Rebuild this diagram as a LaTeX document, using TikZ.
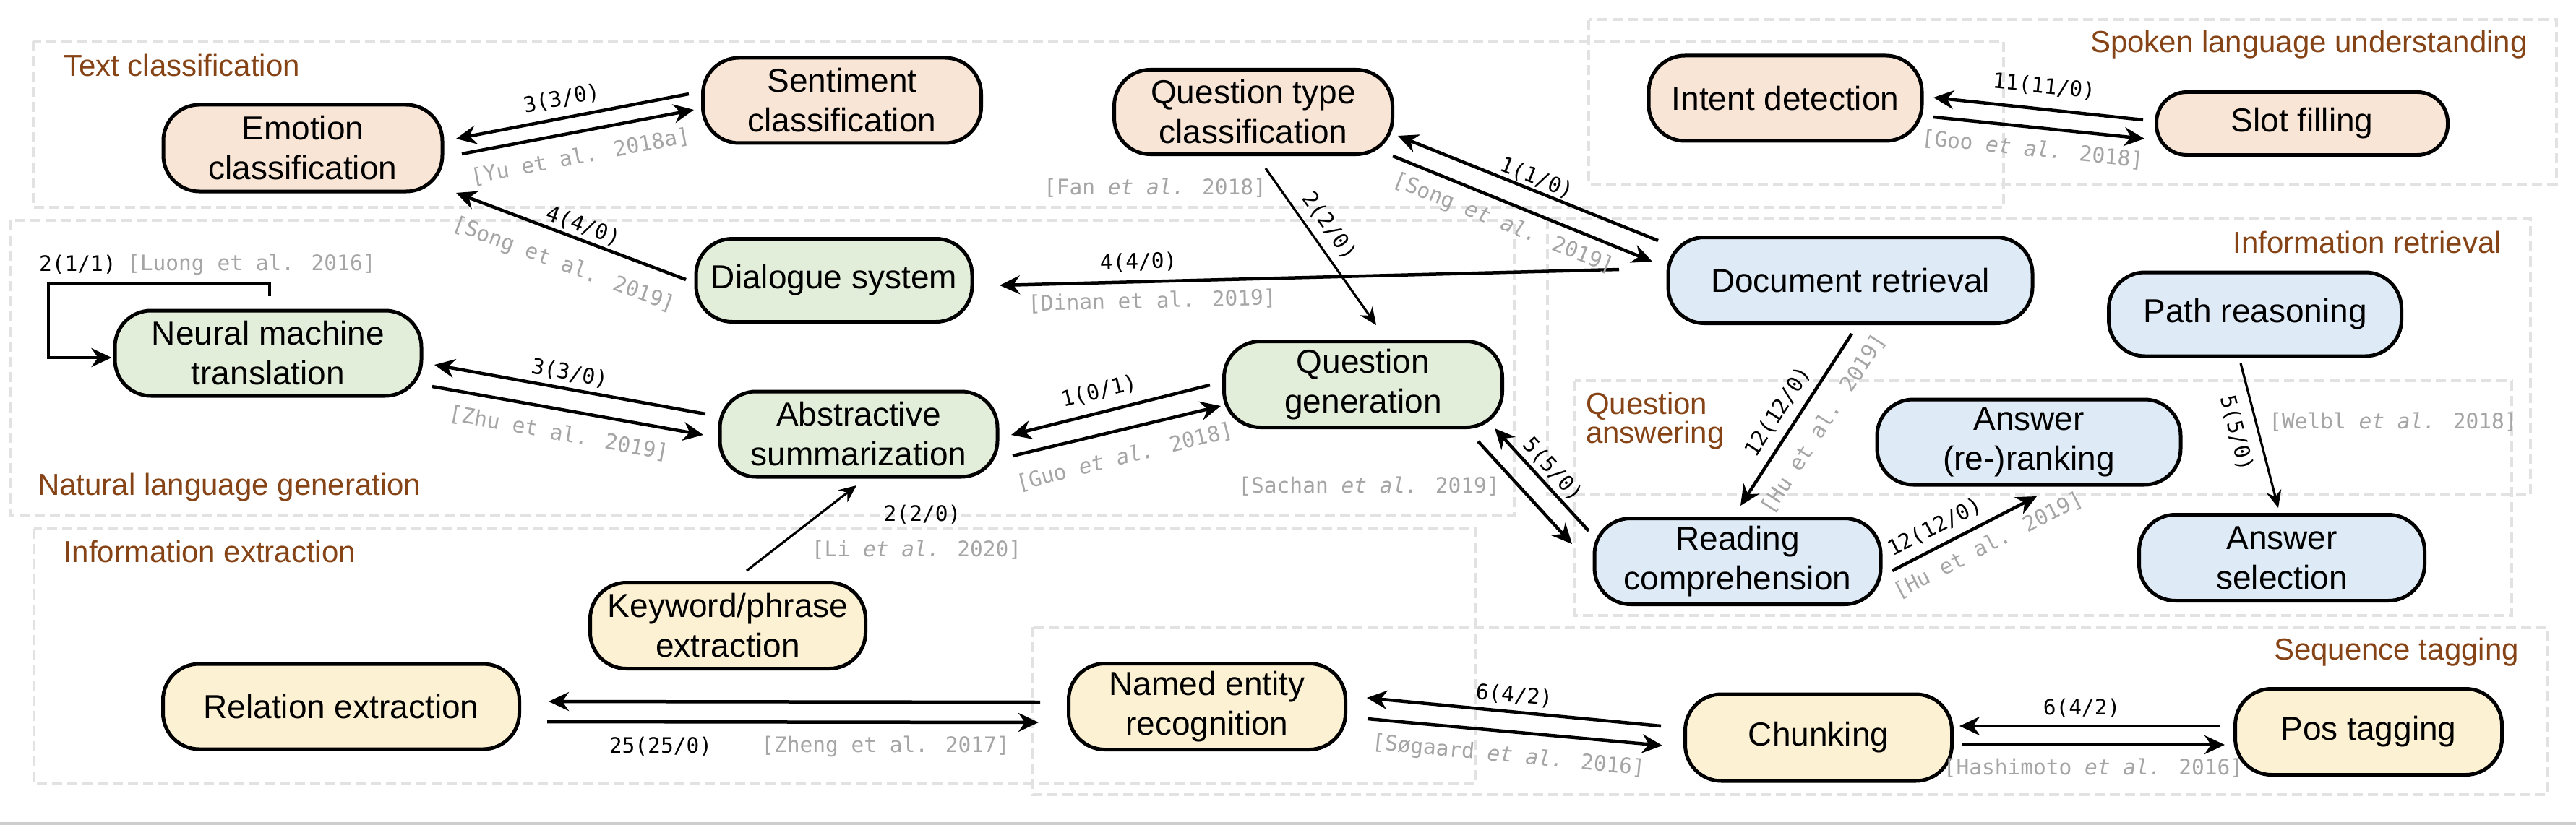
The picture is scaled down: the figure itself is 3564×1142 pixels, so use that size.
\documentclass[tikz,border=0pt]{standalone}
\usepackage{fontspec}
\setmainfont{Liberation Sans}
\newfontfamily\monof{DejaVu Sans Mono}
\usetikzlibrary{calc,arrows.meta}
\newcommand{\myetal}{\textit{et al.}}
\definecolor{peach}{RGB}{248,229,214}
\definecolor{grn}{RGB}{227,238,218}
\definecolor{blu}{RGB}{222,234,245}
\definecolor{yel}{RGB}{252,241,210}
\definecolor{brn}{RGB}{133,67,22}
\definecolor{citegray}{RGB}{165,165,165}
\definecolor{dashgray}{RGB}{226,226,226}
\tikzset{
  box/.style 2 args={draw=black, line width=5pt, rounded corners=50pt,
    minimum width=#1pt, minimum height=#2pt, inner sep=0pt, align=center,
    font=\fontsize{46}{55}\selectfont},
  grpbox/.style={draw=dashgray, line width=4pt, dash pattern=on 14pt off 7pt},
  sect/.style={text=brn, inner sep=0pt, font=\fontsize{42}{35}\selectfont},
  cnt/.style={inner sep=0pt, text=black, font=\monof\fontsize{29.5}{32}\selectfont},
  cite/.style={inner sep=0pt, text=citegray, font=\monof\fontsize{29.5}{32}\selectfont},
  arr/.style={draw=black, line width=4.5pt, -{Stealth[length=28pt,width=26pt,inset=9pt]}},
  tarr/.style={draw=black, line width=3.2pt, -{Stealth[length=24pt,width=21pt,inset=8pt]}},
}
\begin{document}
\begin{tikzpicture}[x=1pt,y=-1pt]
\useasboundingbox (0,0) rectangle (3564,1142);
\fill[white] (0,0) rectangle (3564,1142);
% group boxes
\draw[grpbox] (46,57) rectangle (2772,287);
\draw[grpbox] (2198,27) rectangle (3537,255);
\draw[grpbox] (15,305) rectangle (2095,713);
\draw[grpbox] (2141,303) rectangle (3501,685);
\draw[grpbox] (2179,527) rectangle (3475,852);
\draw[grpbox] (47,732) rectangle (2041,1085);
\draw[grpbox] (1429,868) rectangle (3525,1100);
\draw[draw={rgb,255:red,205;green,205;blue,205}, line width=4pt] (0,1140) -- (3564,1140);
% group labels
\node[sect, anchor=base west] (tclab) at (88,106) {Text classification};
\node[sect, anchor=base east] (slulab) at (3497,73) {Spoken language understanding};
\node[sect, anchor=base east] (irlab) at (3461,350) {Information retrieval};
\node[sect, anchor=base west] (nlglab) at (52,685) {Natural language generation};
\node[sect, anchor=base west] (ielab) at (88,778) {Information extraction};
\node[sect, anchor=north west, align=left] (qalab) at (2194,543) {Question\\answering};
\node[sect, anchor=base east] (stlab) at (3485,913) {Sequence tagging};
% nodes
\node[box={386}{120}, fill=peach] (emo) at (419,205) {Emotion\\classification};
\node[box={385}{118}, fill=peach] (sent) at (1165,139) {Sentiment\\classification};
\node[box={385}{117}, fill=peach] (qt) at (1734,155) {Question type\\classification};
\node[box={378}{118}, fill=peach] (intent) at (2470,136) {Intent detection};
\node[box={403}{87}, fill=peach, rounded corners=42pt] (slot) at (3185,171) {Slot filling};
\node[box={382}{115}, fill=grn] (dial) at (1154,388) {Dialogue system};
\node[box={504}{119}, fill=blu] (dr) at (2560,388) {Document retrieval};
\node[box={405}{116}, fill=blu] (path) at (3120,435) {Path reasoning};
\node[box={424}{118}, fill=grn] (nmt) at (371,489) {Neural machine\\translation};
\node[box={384}{118}, fill=grn] (abs) at (1188,601) {Abstractive\\summarization};
\node[box={385}{119}, fill=grn] (qg) at (1886,532) {Question\\generation};
\node[box={420}{118}, fill=blu] (ar) at (2807,612) {Answer\\(re-)ranking};
\node[box={396}{119}, fill=blu] (rc) at (2404,777) {Reading\\comprehension};
\node[box={395}{119}, fill=blu] (as) at (3157,772) {Answer\\selection};
\node[box={381}{119}, fill=yel] (kw) at (1007,866) {Keyword/phrase\\extraction};
\node[box={493}{118}, fill=yel] (rel) at (472,978) {Relation extraction};
\node[box={383}{119}, fill=yel] (ner) at (1670,978) {Named entity\\recognition};
\node[box={369}{120}, fill=yel] (chunk) at (2516,1021) {Chunking};
\node[box={369}{119}, fill=yel] (pos) at (3277,1013) {Pos tagging};
% connectors
\draw[arr] ($(sent)+(-212,-9)$) -- ($(emo)+(212,-13)$);
\draw[arr] ($(emo)+(220,8)$) -- ($(sent)+(-205,13)$);
\draw[arr] ($(dial)+(-205,-1)$) -- ($(emo)+(212,62)$);
\draw[arr] ($(nmt)+(2,-79)$) -- ($(nmt)+(2,-96)$) -- ($(nmt)+(-304,-96)$) -- ($(nmt)+(-304,6)$) -- ($(nmt.west)+(-2,6)$);
\draw[arr] ($(abs)+(-212,-28)$) -- ($(nmt)+(230,16)$);
\draw[arr] ($(nmt)+(227,46)$) -- ($(abs)+(-215,1)$);
\draw[arr] ($(dr)+(-320,-15)$) -- ($(dial)+(229,7)$);
\draw[tarr] ($(qt)+(17,78)$) -- ($(qg)+(18,-82)$);
\draw[arr] ($(dr)+(-266,-55)$) -- ($(qt)+(200,33)$);
\draw[arr] ($(qt)+(193,61)$) -- ($(dr)+(-274,-26)$);
\draw[arr] ($(slot)+(-220,-5)$) -- ($(intent)+(205,-1)$);
\draw[arr] ($(intent)+(205,26)$) -- ($(slot)+(-218,21)$);
\draw[arr] ($(qg)+(-212,1)$) -- ($(abs)+(211,1)$);
\draw[arr] ($(abs)+(213,30)$) -- ($(qg)+(-197,30)$);
\draw[tarr] ($(kw)+(26,-76)$) -- ($(abs)+(-3,71)$);
\draw[arr] ($(rc)+(-206,-42)$) -- ($(qg)+(182,61)$);
\draw[arr] ($(qg)+(159,79)$) -- ($(rc)+(-229,-24)$);
\draw[arr] ($(dr)+(2,74)$) -- ($(rc)+(4,-77)$);
\draw[arr] ($(rc)+(214,13)$) -- ($(ar)+(11,75)$);
\draw[tarr] ($(path)+(-20,68)$) -- ($(as)+(-5,-69)$);
\draw[arr] ($(ner)+(-231,-6)$) -- ($(rel)+(287,-7)$);
\draw[arr] ($(rel)+(285,21)$) -- ($(ner)+(-233,22)$);
\draw[arr] ($(chunk)+(-218,-16)$) -- ($(ner)+(221,-12)$);
\draw[arr] ($(ner)+(222,17)$) -- ($(chunk)+(-216,11)$);
\draw[arr] ($(pos)+(-205,-8)$) -- ($(chunk)+(195,-16)$);
\draw[arr] ($(chunk)+(199,10)$) -- ($(pos)+(-199,18)$);
% edge labels and citations
\node[cnt, rotate=10.9] (c1) at (777,137) {3(3/0)};
\node[cite, rotate=10.9] (r1) at (803,217) {[Yu et al. 2018a]};
\node[cnt, rotate=-20.5] (c2) at (807,313) {4(4/0)};
\node[cite, rotate=-20.5] (r2) at (780,367) {[Song et al. 2019]};
\node[cnt, anchor=west] (c3) at (54,366) {2(1/1)};
\node[cite, anchor=west] (r3) at (176,366) {[Luong et al. 2016]};
\node[cnt, rotate=1.5] (c4) at (1575,363) {4(4/0)};
\node[cite, rotate=1.5] (r4) at (1594,417) {[Dinan et al. 2019]};
\node[cite] (r5) at (1598,260) {[Fan \myetal{} 2018]};
\node[cnt, rotate=-54.6] (c5) at (1839,313) {2(2/0)};
\node[cnt, rotate=-21.9] (c6) at (2126,247) {1(1/0)};
\node[cite, rotate=-21.9] (r6) at (2080,310) {[Song \myetal{} 2019]};
\node[cnt, rotate=-5.9] (c7) at (2828,120) {11(11/0)};
\node[cite, rotate=-5.9] (r7) at (2812,207) {[Goo \myetal{} 2018]};
\node[cnt, rotate=-10.3] (c8) at (788,517) {3(3/0)};
\node[cite, rotate=-10.3] (r8) at (773,600) {[Zhu et al. 2019]};
\node[cnt, rotate=14.1] (c9) at (1521,542) {1(0/1)};
\node[cite, rotate=14.1] (r9) at (1556,633) {[Guo \myetal{} 2018]};
\node[cnt] (c10) at (1276,712) {2(2/0)};
\node[cite] (r10) at (1268,761) {[Li \myetal{} 2020]};
\node[cite] (r11) at (1894,673) {[Sachan \myetal{} 2019]};
\node[cnt, rotate=-47.5] (c11) at (2148,650) {5(5/0)};
\node[cnt, rotate=57] (c12) at (2460,570) {12(12/0)};
\node[cite, rotate=57] (r12) at (2523,587) {[Hu et al. 2019]};
\node[cnt, rotate=27.2] (c13) at (2677,730) {12(12/0)};
\node[cite, rotate=27.2] (r13) at (2751,755) {[Hu et al. 2019]};
\node[cnt, rotate=-75.4] (c14) at (3094,600) {5(5/0)};
\node[cite] (r14) at (3311,584) {[Welbl \myetal{} 2018]};
\node[cnt] (c15) at (914,1033) {25(25/0)};
\node[cite] (r15) at (1225,1033) {[Zheng et al. 2017]};
\node[cnt, rotate=-5.5] (c16) at (2095,963) {6(4/2)};
\node[cite, rotate=-5.5] (r16) at (2087,1047) {[Søgaard \myetal{} 2016]};
\node[cnt] (c17) at (2880,980) {6(4/2)};
\node[cite] (r17) at (2896,1063) {[Hashimoto \myetal{} 2016]};
\end{tikzpicture}
\end{document}
